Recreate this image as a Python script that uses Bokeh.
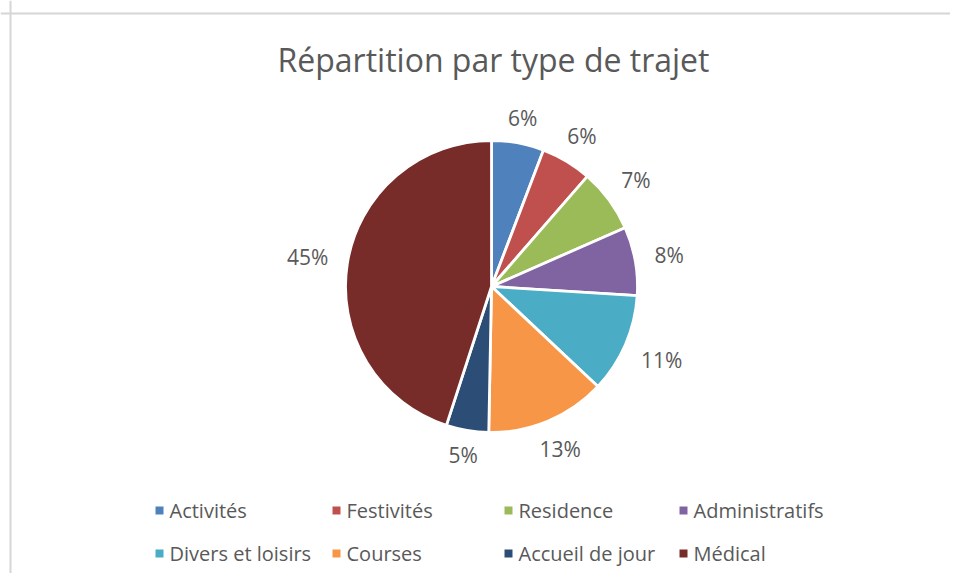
import math
from bokeh.plotting import figure
from bokeh.models import Range1d, Span, ColumnDataSource
from bokeh.core.properties import value
from bokeh.embed import file_html
from bokeh.resources import INLINE

# ---- data ----
title_text = "Répartition par type de trajet"
categories = ["Activités", "Festivités", "Residence", "Administratifs",
              "Divers et loisirs", "Courses", "Accueil de jour", "Médical"]
shares = [5.8, 5.6, 7.0, 7.6, 11.0, 13.3, 4.7, 45.0]
colors = ["#4F81BD", "#C0504D", "#9BBB59", "#8064A2",
          "#4BACC6", "#F79646", "#2C4D75", "#772C2A"]

# ---- layout constants (pixel-like data units, origin = pie centre) ----
W, H = 950, 573
CX, CY = 491, 286            # pie centre inside the figure, in px
R = 146
GAP = 20
TXT = "#595959"
FONT = "Open Sans"

p = figure(width=W, height=H, output_backend="svg", toolbar_location=None,
           x_range=Range1d(-CX, W - CX), y_range=Range1d(-(H - CY), CY),
           x_axis_type=None, y_axis_type=None, min_border=0)
p.outline_line_color = None
p.grid.visible = False
p.background_fill_color = "white"
p.border_fill_color = "white"

# chart border (top & left visible)
p.add_layout(Span(location=CY - 13, dimension="width", line_color="#D6D6D6", line_width=2))
p.add_layout(Span(location=-(CX - 10), dimension="height", line_color="#D6D6D6", line_width=2))

# ---- wedges ----
total = sum(shares)
starts, ends, mids = [], [], []
acc = 0.0
for s in shares:
    a0 = acc / total * 2 * math.pi
    acc += s
    a1 = acc / total * 2 * math.pi
    starts.append(math.pi / 2 - a0)
    ends.append(math.pi / 2 - a1)
    mids.append((a0 + a1) / 2)

src = ColumnDataSource(dict(start=starts, end=ends, color=colors, cat=categories))
p.wedge(x=0, y=0, radius=R, start_angle="start", end_angle="end",
        direction="clock", fill_color="color", line_color="white",
        line_width=2.8, source=src)

# ---- percentage labels (outside end) ----
labels = [f"{round(s / total * 100)}%" for s in shares]
lx, ly = [], []
for lab, m in zip(labels, mids):
    ux, uy = math.sin(m), math.cos(m)
    w = (len(lab) - 1) * 11.5 / 2 + 8.5
    h = 3.0
    d = R + GAP + w * abs(ux) + h * abs(uy)
    lx.append(d * ux)
    ly.append(d * uy)
p.text(x=lx, y=ly, text=labels, text_font=value(FONT), text_font_size="21px",
       text_color=TXT, text_align="center", text_baseline="middle")

# ---- title ----
p.text(x=[2], y=[CY - 59], text=[title_text], text_font=value(FONT),
       text_font_size="32px", text_color=TXT, text_align="center",
       text_baseline="alphabetic")

# ---- legend (4 columns x 2 rows) ----
col_x = [159, 336, 508, 683]
row_y = [510, 553]
sq_x, sq_y, tx, ty = [], [], [], []
for i, cat in enumerate(categories):
    xpx = col_x[i % 4] - CX
    ypx = CY - row_y[i // 4]
    sq_x.append(xpx)
    sq_y.append(ypx)
    tx.append(xpx + 10)
    ty.append(ypx)
p.scatter(x=sq_x, y=sq_y, marker="square", size=8, fill_color=colors, line_color=None)
p.text(x=tx, y=ty, text=categories, text_font=value(FONT), text_font_size="20px",
       text_color=TXT, text_align="left", text_baseline="middle")

open("out.html", "w").write(file_html(p, INLINE))
